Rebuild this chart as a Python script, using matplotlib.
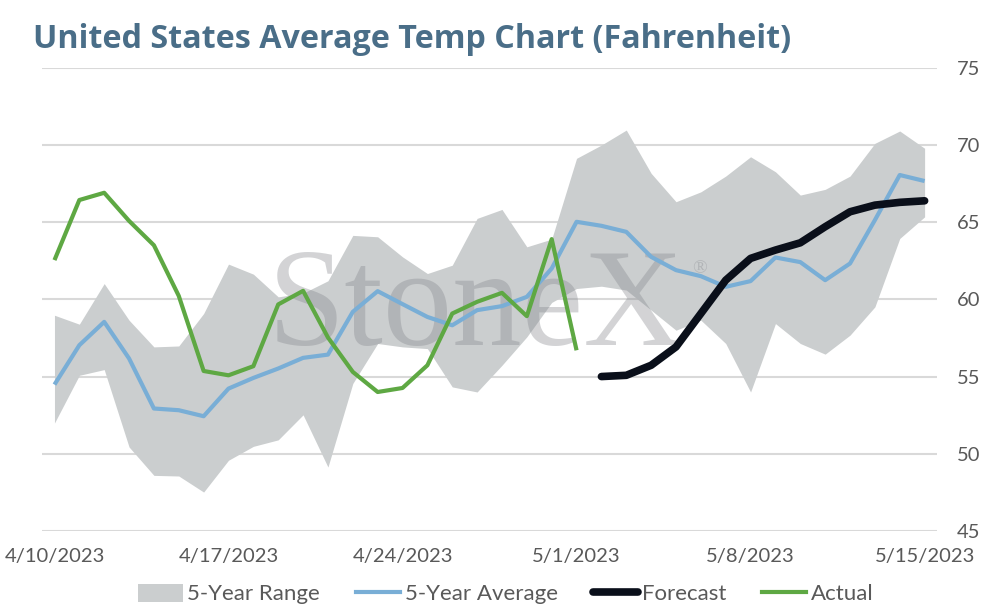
import matplotlib
matplotlib.use("Agg")
import matplotlib.pyplot as plt
import numpy as np
import pandas as pd
from matplotlib.patches import Patch
from matplotlib.lines import Line2D

# ---- data ----
dates = pd.date_range("2023-04-10", "2023-05-15", freq="D")

range_upper = [58.97, 58.39, 61.02, 58.65, 56.92, 56.98, 59.08, 62.28, 61.63, 60.16,
               60.4, 61.2, 64.14, 64.05, 62.75, 61.67, 62.21, 65.24, 65.82, 63.4,
               63.9, 69.13, 69.99, 70.96, 68.16, 66.32, 66.96, 67.98, 69.23, 68.26,
               66.75, 67.12, 67.98, 70.1, 70.9, 69.78]
range_lower = [51.99, 55.08, 55.45, 50.44, 48.6, 48.56, 47.52, 49.58, 50.48, 50.9,
               52.52, 49.14, 54.55, 57.14, 56.92, 56.81, 54.33, 54.0, 55.73, 57.57,
               59.8, 60.7, 60.85, 60.6, 59.3, 58.0, 58.65, 57.14, 54.0, 58.43,
               57.14, 56.45, 57.68, 59.51, 63.94, 65.34]
avg5 = [54.48, 57.03, 58.54, 56.17, 52.93, 52.82, 52.43, 54.22, 54.91, 55.52,
        56.21, 56.42, 59.19, 60.53, 59.69, 58.86, 58.32, 59.30, 59.56, 60.16,
        62.0, 65.02, 64.76, 64.37, 62.75, 61.89, 61.5, 60.81, 61.18, 62.71,
        62.41, 61.24, 62.32, 65.13, 68.05, 67.66]
actual = [62.54, 66.43, 66.9, 65.08, 63.5, 60.22, 55.36, 55.08, 55.67, 59.67,
          60.55, 57.53, 55.3, 54.0, 54.26, 55.73, 59.08, 59.84, 60.42, 58.91,
          63.9, 56.7]
forecast = [55.0, 55.08, 55.73, 56.92, 59.08, 61.24, 62.65, 63.19, 63.66, 64.7,
            65.67, 66.1, 66.28, 66.38]

tick_dates = ["2023-04-10", "2023-04-17", "2023-04-24", "2023-05-01", "2023-05-08", "2023-05-15"]
tick_labels = ["4/10/2023", "4/17/2023", "4/24/2023", "5/1/2023", "5/8/2023", "5/15/2023"]
y_ticks = [45, 50, 55, 60, 65, 70, 75]

# ---- style ----
plt.rcParams["font.family"] = ["Lato", "DejaVu Sans"]
c_range = "#cbcecf"
c_avg = "#79aed6"
c_fc = "#0a0f1a"
c_act = "#5ea843"
c_text = "#595959"
c_title = "#4a6e88"

fig = plt.figure(figsize=(9.94, 6.13), dpi=100)
ax = fig.add_axes([0.0423, 0.1338, 0.9004, 0.7558])

ax.fill_between(dates, range_lower, range_upper, color=c_range, linewidth=0, zorder=1)

# watermark
ax.text(0.485, 0.402, "StoneX", transform=ax.transAxes, ha="center", va="baseline",
        family=["Liberation Serif", "DejaVu Serif"], fontsize=100, color="#85878d",
        alpha=0.36, zorder=2)
ax.text(0.735, 0.566, "®", transform=ax.transAxes, ha="center", va="center",
        family=["Liberation Serif", "DejaVu Serif"], fontsize=14, color="#85878d",
        alpha=0.36, zorder=2)

ax.plot(dates, avg5, color=c_avg, linewidth=3.0, zorder=3, solid_capstyle="butt")
ax.plot(dates[22:], forecast, color=c_fc, linewidth=5.5, zorder=4, solid_capstyle="round")
ax.plot(dates[:len(actual)], actual, color=c_act, linewidth=3.0, zorder=5, solid_capstyle="butt")

ax.set_ylim(45, 75)
ax.set_yticks(y_ticks)
ax.set_xlim(dates[0] - pd.Timedelta(hours=12), dates[-1] + pd.Timedelta(hours=12))
ax.set_xticks(pd.to_datetime(tick_dates))
ax.set_xticklabels(tick_labels)

ax.yaxis.tick_right()
ax.grid(axis="y", color="#d9d9d9", linewidth=1.5, zorder=0)
ax.set_axisbelow(True)
for s in ax.spines.values():
    s.set_visible(False)
ax.tick_params(axis="both", length=0, labelsize=14.5, colors=c_text)
ax.tick_params(axis="y", pad=14)
ax.tick_params(axis="x", pad=12)

fig.text(0.033, 0.935, "United States Average Temp Chart (Fahrenheit)", fontsize=23.2,
         fontweight="bold", color=c_title, ha="left", va="center",
         family=["Open Sans", "DejaVu Sans"])

handles = [Patch(facecolor=c_range, edgecolor="none"),
           Line2D([0], [0], color=c_avg, linewidth=3.0),
           Line2D([0], [0], color=c_fc, linewidth=5.5, solid_capstyle="round"),
           Line2D([0], [0], color=c_act, linewidth=3.0)]
labels = ["5-Year Range", "5-Year Average", "Forecast", "Actual"]
leg = fig.legend(handles, labels, loc="center", bbox_to_anchor=(0.509, 0.031), ncol=4,
                 frameon=False, handlelength=2.0, handletextpad=0.2,
                 columnspacing=1.6, handleheight=0.9,
                 prop={"family": ["Lato", "DejaVu Sans"], "size": 16})
for t in leg.get_texts():
    t.set_color(c_text)

fig.savefig("out.png", dpi=100)
